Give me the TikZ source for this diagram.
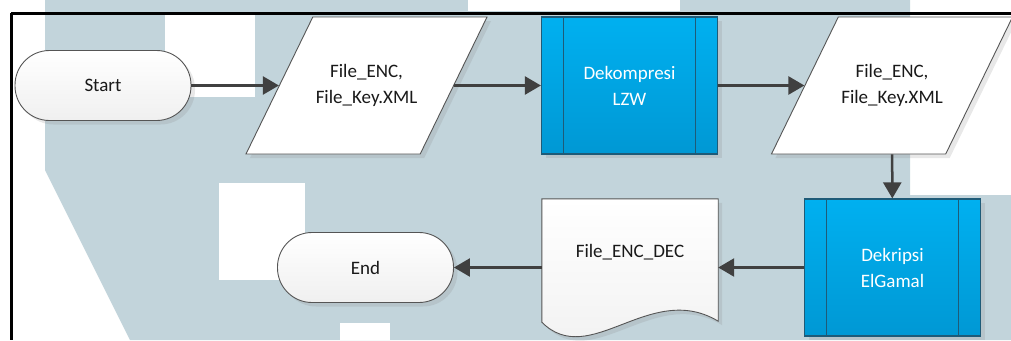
\documentclass[tikz,border=0pt]{standalone}
\usepackage{fontspec}
\setmainfont{Carlito}
\usetikzlibrary{shapes.geometric,arrows.meta,shadows,calc}

\definecolor{wm}{HTML}{C2D4DB}
\definecolor{procblue}{HTML}{00B0F0}
\definecolor{procdark}{HTML}{0098D4}
\definecolor{procedge}{HTML}{1E5B78}
\definecolor{edgegray}{HTML}{555555}
\definecolor{arrowgray}{HTML}{404040}

\tikzset{
  base/.style={font=\fontsize{19}{26}\selectfont, align=center, inner sep=0pt, text=black!90},
  softshadow/.style={drop shadow={opacity=0.18, shadow xshift=4pt, shadow yshift=-4pt}},
  terminal/.style={base, draw=edgegray, line width=0.9pt, rounded corners=34.5pt,
    minimum width=176pt, minimum height=70pt, top color=white, bottom color=black!6, softshadow},
  % parallelogram: 137pt high, 241pt wide overall, sides slanted at 64 degrees
  iobox/.style={trapezium, trapezium left angle=64, trapezium right angle=116,
    inner xsep=53.7pt, inner ysep=68.5pt, minimum size=0pt, draw=edgegray, line width=0.9pt,
    fill=white, softshadow},
  iotext/.style={base},
  procbox/.style={base, text=white, draw=procedge, line width=1.2pt,
    top color=procblue, bottom color=procdark, minimum width=176pt, minimum height=137pt, softshadow,
    path picture={\draw[procedge, line width=1pt]
      ([xshift=22pt]path picture bounding box.north west) -- ([xshift=22pt]path picture bounding box.south west)
      ([xshift=-22pt]path picture bounding box.north east) -- ([xshift=-22pt]path picture bounding box.south east);}},
  docarea/.style={inner sep=0pt, minimum width=176pt, minimum height=137pt},
  docedge/.style={draw=edgegray, line width=0.9pt, top color=white, bottom color=black!6},
  flow/.style={draw=arrowgray, line width=2.5pt, -{Triangle[length=16pt,width=18pt]}},
  frameline/.style={draw=black, line width=3pt}
}

\begin{document}
\begin{tikzpicture}[x=1pt,y=-1pt]
  \useasboundingbox (0,0) rectangle (1011,340);

  % faint background pattern
  \fill[wm] (45,0) -- (910,0) -- (910,195) -- (1011,195) -- (1011,340) -- (130,340) -- (45,170) -- cycle;
  \fill[white] (165,13) rectangle (255,97);
  \fill[white] (219,183) rectangle (305,280);
  \fill[white] (340,323) rectangle (390,340);
  \fill[white] (468,0) rectangle (680,11);

  % outer frame
  \draw[frameline] (11,13) -- (1011,13);
  \draw[frameline] (11,13) -- (11,340);

  % top row
  \node[terminal] (start) at (103,85.5) {Start};
  \node[iobox, label={[iotext]center:{File\_ENC,\\File\_Key.XML}}] (in1) at (366.5,85.5) {};
  \node[procbox] (lzw) at (629.5,85.5) {Dekompresi\\LZW};
  \node[iobox, label={[iotext]center:{File\_ENC,\\File\_Key.XML}}] (in2) at (892,85.5) {};

  % bottom row
  \node[procbox] (elg) at (892.5,267.5) {Dekripsi\\ElGamal};
  \node[docarea] (doc) at (630,267.5) {};
  \path[docedge, softshadow]
    (doc.north west) -- (doc.north east) -- ($(doc.south east)+(0,-15)$)
    .. controls ($(doc.south)+(20,-56)$) and ($(doc.south)+(-40,34)$) .. ($(doc.south west)+(0,-14)$) -- cycle;
  \node[base] (doclabel) at ($(doc.center)+(0,-15)$) {File\_ENC\_DEC};
  \node[terminal] (end) at (365.5,267.5) {End};

  % connectors
  \draw[flow] (start) -- (in1);
  \draw[flow] (in1) -- (lzw);
  \draw[flow] (lzw) -- (in2);
  \draw[flow] (in2) -- (elg);
  \draw[flow] (elg) -- (doc);
  \draw[flow] (doc) -- (end);
\end{tikzpicture}
\end{document}
